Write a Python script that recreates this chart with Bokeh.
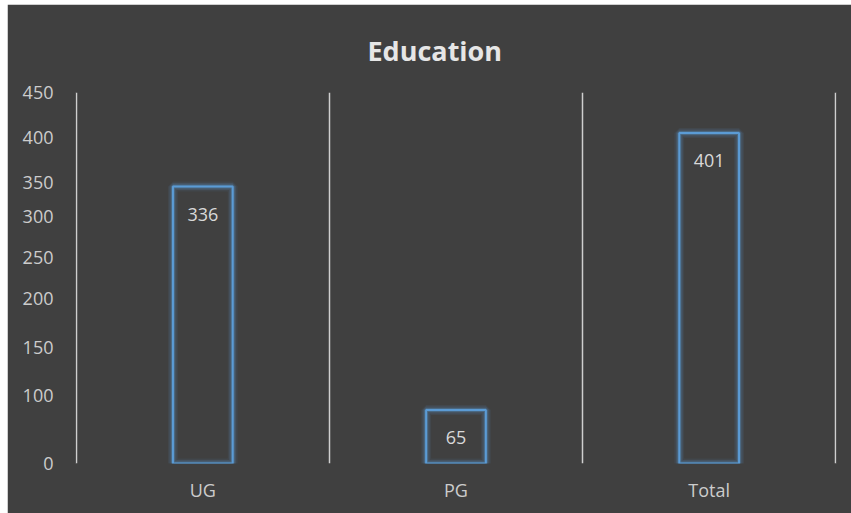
from bokeh.plotting import figure
from bokeh.models import FixedTicker, Range1d, ColumnDataSource
from bokeh.embed import file_html
from bokeh.resources import INLINE
from bokeh.core.properties import value
import numpy as np

categories = ["UG", "PG", "Total"]
counts = [336, 65, 401]
ytick_positions = [0, 83, 141, 200, 250, 300, 341, 395, 450]
ytick_labels = ["0", "100", "150", "200", "250", "300", "350", "400", "450"]

BG = "#404040"
BLUE = "#5b9bd5"
FONT = "Open Sans"

xs = np.arange(len(categories)) + 0.5
src = ColumnDataSource(dict(x=xs, top=counts, label=[str(c) for c in counts]))

p = figure(width=844, height=509, output_backend="svg", toolbar_location=None,
           x_range=Range1d(-0.003, len(categories) + 0.003), y_range=Range1d(0, 450),
           min_border_left=68, min_border_right=15, min_border_top=88, min_border_bottom=50,
           margin=(4, 0, 0, 7))
p.background_fill_color = BG
p.border_fill_color = BG
p.outline_line_color = BG
p.outline_line_alpha = 1.0

p.title.text = "Education"
p.title.align = "left"
p.title.text_font = FONT
p.title.text_font_size = "27px"
p.title.text_font_style = "bold"
p.title.text_color = "#e6e6e6"
p.title.text_line_height = 1.6
p.title.offset = 292
p.title.standoff = 48

# glow + outline bars
for w, a in [(10, 0.08), (7, 0.15), (4, 0.3)]:
    p.vbar(x="x", top="top", bottom=0, width=0.236, source=src, fill_color=None,
           line_color=BLUE, line_width=w, line_alpha=a)
p.vbar(x="x", top="top", bottom=0, width=0.236, source=src, fill_color=None,
       line_color=BLUE, line_width=2)

p.text(x="x", y="top", text="label", source=src, text_align="center", text_baseline="middle",
       y_offset=28, text_color="#d9d9d9", text_font=value(FONT), text_font_size="18px")

# grids
p.ygrid.grid_line_color = None
p.ygrid.visible = False
p.xgrid.ticker = FixedTicker(ticks=list(range(len(categories) + 1)))
p.xgrid.grid_line_color = "#cfcfcf"
p.xgrid.grid_line_width = 1.5

# axes
p.xaxis.ticker = FixedTicker(ticks=list(xs))
p.xaxis.major_label_overrides = {float(x): c for x, c in zip(xs, categories)}
p.yaxis.ticker = FixedTicker(ticks=ytick_positions)
p.yaxis.major_label_overrides = {t: l for t, l in zip(ytick_positions, ytick_labels)}
for ax in (p.xaxis, p.yaxis):
    ax.axis_line_color = None
    ax.major_tick_line_color = None
    ax.minor_tick_line_color = None
    ax.major_tick_out = 0
    ax.major_tick_in = 0
    ax.major_label_text_color = "#cccccc"
    ax.major_label_text_font = FONT
    ax.major_label_text_font_size = "18px"
p.yaxis.major_label_standoff = 22
p.xaxis.major_label_standoff = 14

open("out.html", "w").write(file_html(p, INLINE))
